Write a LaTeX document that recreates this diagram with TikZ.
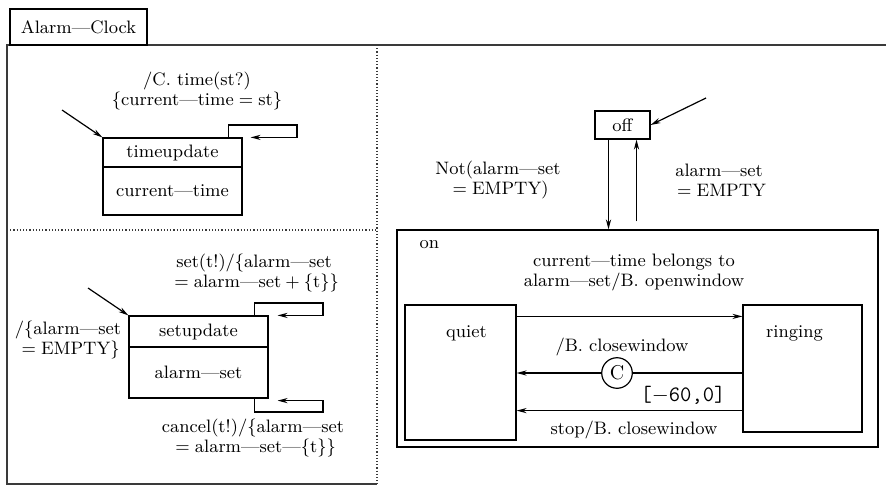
\documentclass[tikz,border=0pt]{standalone}
\usetikzlibrary{arrows.meta}

\begin{document}
\begin{tikzpicture}[x=0.5pt, y=-0.5pt, line width=0.6pt,
    font=\fontsize{9}{10}\selectfont,
    statebox/.style={draw, inner sep=0pt},
    lbl/.style={align=center, inner sep=1pt},
    tr/.style={-{Stealth[length=5pt,width=2.6pt]}}]
    \definecolor{lineColour}{HTML}{3A3A3A}

    \useasboundingbox (0,0) rectangle (886,487);

    % Draw frame
    \draw[lineColour] (886,45) -- (7,45) -- (7,484) -- (377,484);
    \draw[lineColour, densely dotted] (377,45) -- (377,484);
    \draw[lineColour, densely dotted] (7,230) -- (377,230);
    \node[statebox, minimum width=68.5pt, minimum height=18pt] (clock) at (78.5,27) {Alarm---Clock};

    % Time part
    \node[statebox, minimum width=69.5pt, minimum height=14.5pt] (tuhead) at (172.5,152.5) {timeupdate};
    \node[statebox, minimum width=69.5pt, minimum height=24pt] (tubody) at (172.5,191) {current---time};
    \coordinate (tuinit) at (62,110);
    \coordinate (tuloop) at (297,125);
    \draw[tr] (tuinit) -- (tuhead.north west);
    \draw[tr] ([xshift=-7pt]tuhead.north east) |- (tuloop) |- ([xshift=4pt]tuhead.north east);
    \node[lbl] (tulabel) at (197,91) {/C. time(st?)\\\{current---time${}={}$st\}};

    % Alarm set part
    \node[statebox, minimum width=69.5pt, minimum height=15.5pt] (suhead) at (198.5,331.5) {setupdate};
    \node[statebox, minimum width=69.5pt, minimum height=25.5pt] (subody) at (198.5,372.5) {alarm---set};
    \coordinate (suinit) at (88,288);
    \coordinate (suset) at (323,303);
    \coordinate (sucancel) at (323,412);
    \draw[tr] (suinit) -- (suhead.north west);
    \draw[tr] ([xshift=-7pt]suhead.north east) |- (suset) |- ([xshift=4.5pt]suhead.north east);
    \draw[tr] ([xshift=-7pt]subody.south east) |- (sucancel) |- ([xshift=4.5pt,yshift=-1pt]subody.south east);
    \node[lbl] (suinitlabel) at (68,340) {/\{alarm---set\\${}={}$EMPTY\}};
    \node[lbl] (susetlabel) at (254,273) {set(t!)/\{alarm---set\\${}={}$alarm---set${}+{}$\{t\}\}};
    \node[lbl] (sucancellabel) at (253,438) {cancel(t!)/\{alarm---set\\${}={}$alarm---set---\{t\}\}};

    % Ringing part
    \node[statebox, minimum width=27.5pt, minimum height=14pt] (off) at (622.5,125) {off};
    \node[statebox, minimum width=240.5pt, minimum height=108.5pt,
          label={[anchor=north west, xshift=8pt, yshift=-2pt]north west:on}] (on) at (637.5,338.5) {};
    \node[statebox, minimum width=55.5pt, minimum height=67.5pt,
          label={[anchor=north, xshift=3pt, yshift=-7pt]north:quiet}] (quiet) at (460.5,372.5) {};
    \node[statebox, minimum width=59.5pt, minimum height=63.5pt,
          label={[anchor=north, xshift=-4pt, yshift=-7pt]north:ringing}] (ringing) at (802.5,368.5) {};
    \coordinate (offinit) at (706,98);
    \draw[tr] (offinit) -- (off.east);
    \draw[tr] ([xshift=-7pt]off.south) -- ([xshift=-7pt]off.south |- on.north);
    \draw[tr] ([xshift=7pt,yshift=4pt]off.south |- on.north) -- ([xshift=7pt]off.south);
    \node[lbl] (onlabel) at (498,180) {Not(alarm---set\\${}={}$EMPTY)};
    \node[lbl] (offlabel) at (719,180) {alarm---set\\${}={}$EMPTY};

    \node[lbl] (openlabel) at (634,272) {current---time belongs to\\alarm---set/B. openwindow};
    \draw[tr] ([yshift=-6pt]quiet.north east) -- ([yshift=-6pt]ringing.north west);
    \node[draw, circle, inner sep=1.8pt, font=\fontsize{10}{11}\selectfont] (clk) at (617,373) {C};
    \draw (ringing.west |- clk) -- (clk);
    \draw[tr] (clk) -- (quiet.east |- clk);
    \node[lbl] (closelabel) at (622,347) {/B. closewindow};
    \node[lbl, font=\fontsize{11}{12}\selectfont] (timelabel) at (683,395) {\texttt{[$-$60,0]}};
    \draw[tr] ([yshift=11pt]ringing.south west) -- ([yshift=11pt]ringing.south west -| quiet.east);
    \node[lbl] (stoplabel) at (634,430) {stop/B. closewindow};

\end{tikzpicture}
\end{document}
